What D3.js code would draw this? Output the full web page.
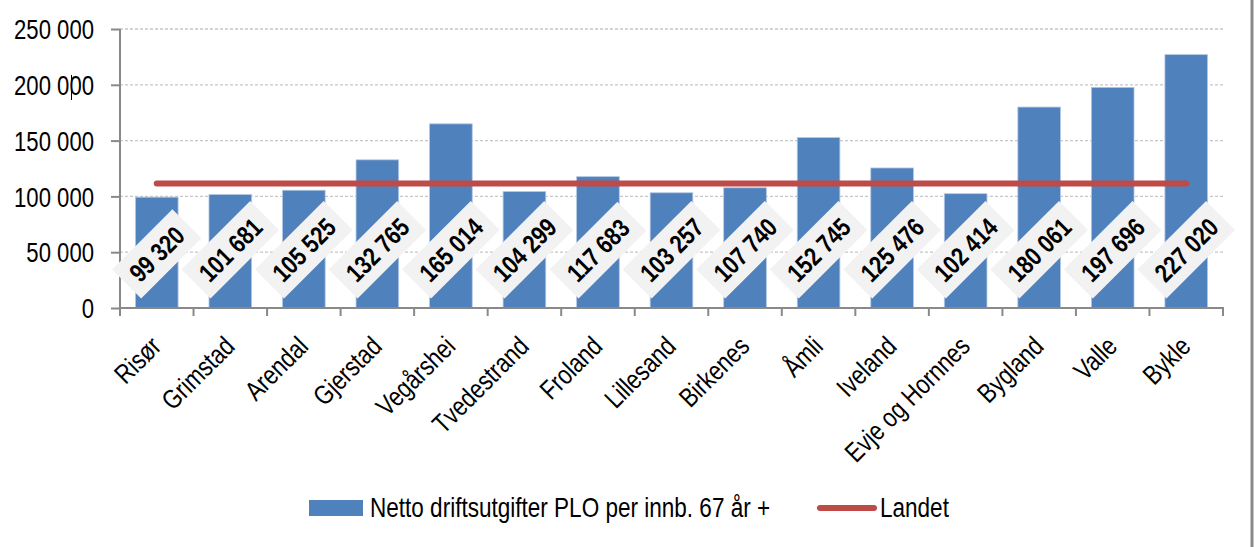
<!DOCTYPE html>
<html><head><meta charset="utf-8">
<script src="https://cdn.jsdelivr.net/npm/d3@7"></script>
<style>
html,body{margin:0;padding:0;background:#fff;}
svg{display:block;}
text{font-family:"Liberation Sans",Arial,sans-serif;}
</style></head>
<body>
<script>
const categories = ["Risør","Grimstad","Arendal","Gjerstad","Vegårshei","Tvedestrand","Froland","Lillesand","Birkenes","Åmli","Iveland","Evje og Hornnes","Bygland","Valle","Bykle"];
const nettoValues = [99320,101681,105525,132765,165014,104299,117683,103257,107740,152745,125476,102414,180061,197696,227020];
const landetValues = [111600,111600,111600,111600,111600,111600,111600,111600,111600,111600,111600,111600,111600,111600,111600];
const yTicks = [0,50000,100000,150000,200000,250000];
const seriesNames = ["Netto driftsutgifter PLO per innb. 67 år +","Landet"];

const W=1254,H=547, NS=0.82; // narrow-font horizontal scale
const svg=d3.select("body").append("svg").attr("width",W).attr("height",H);
const fmt = v => d3.format(",")(v).replace(/,/g," ");

const x=d3.scaleBand().domain(categories).range([120,1223]).paddingInner(0.42).paddingOuter(0.21);
const y=d3.scaleLinear().domain([0,250000]).range([308,29]);
const axisCol="#898989";

// gridlines
svg.append("g").selectAll("line").data(yTicks.filter(d=>d>0)).join("line")
  .attr("x1",120).attr("x2",1223).attr("y1",d=>y(d)).attr("y2",d=>y(d))
  .attr("stroke","#C6C6C6").attr("stroke-width",1.3).attr("stroke-dasharray","3,2");

// bars
svg.append("g").selectAll("rect").data(nettoValues).join("rect")
  .attr("x",(d,i)=>x(categories[i])).attr("width",x.bandwidth())
  .attr("y",d=>y(d)).attr("height",d=>y(0)-y(d))
  .attr("fill","#4F81BD").attr("stroke","#B4C8E4").attr("stroke-width",0.8);

// y axis
const yAxis=d3.axisLeft(y).tickValues(yTicks).tickFormat(fmt).tickSize(9);
const ga=svg.append("g").attr("transform","translate(120,0)").call(yAxis);
ga.select(".domain").attr("stroke",axisCol).attr("stroke-width",2).attr("d","M0,29V308");
ga.selectAll(".tick line").attr("stroke",axisCol).attr("stroke-width",2);
ga.selectAll(".tick text").attr("x",0).attr("font-size",27).attr("fill","#000").attr("dy","0.36em")
  .attr("transform",`translate(-26,0) scale(${NS},1)`);

// x axis
const step=x.step();
const bounds=categories.map(c=>x(c)-step*x.paddingOuter()).concat([1223]);
svg.append("line").attr("x1",119).attr("x2",1224).attr("y1",308).attr("y2",308).attr("stroke",axisCol).attr("stroke-width",2);
svg.append("g").selectAll("line").data(bounds).join("line")
  .attr("x1",d=>d).attr("x2",d=>d).attr("y1",308).attr("y2",316).attr("stroke",axisCol).attr("stroke-width",2);

svg.append("g").selectAll("text").data(categories).join("text")
  .attr("transform",d=>`translate(${x(d)+x.bandwidth()/2+6},348) rotate(-45) scale(${NS},1)`)
  .attr("text-anchor","end").attr("font-size",27).attr("fill","#000").text(d=>d);

// Landet line
const line=d3.line().x((d,i)=>x(categories[i])+x.bandwidth()/2).y(d=>y(d));
svg.append("path").datum(landetValues).attr("d",line).attr("fill","none")
  .attr("stroke","#BE4B48").attr("stroke-width",6).attr("stroke-linecap","round");

// data labels
const lg=svg.append("g");
nettoValues.forEach((v,i)=>{
  const cx=x(categories[i])+x.bandwidth()/2;
  const g=lg.append("g");
  const t=g.append("text").attr("font-size",26).attr("font-weight","bold").attr("fill","#000")
    .attr("text-anchor","middle").attr("dy","0.36em").attr("transform",`scale(${NS},1)`).text(fmt(v));
  const L=t.node().getComputedTextLength()*NS;
  const bw=L+20,bh=41;
  g.insert("rect","text").attr("x",-bw/2).attr("y",-bh/2).attr("width",bw).attr("height",bh).attr("fill","#F2F2F2");
  const cy=298.5-(bw+bh)*Math.SQRT1_2/2;
  g.attr("transform",`translate(${cx},${cy}) rotate(-45)`);
});

// legend
svg.append("rect").attr("x",309).attr("y",500).attr("width",54).attr("height",16).attr("fill","#4F81BD");
svg.append("text").attr("transform",`translate(370,517) scale(${NS},1)`).attr("font-size",27.5).attr("fill","#000").text(seriesNames[0]);
svg.append("line").attr("x1",820).attr("x2",874).attr("y1",508).attr("y2",508)
  .attr("stroke","#BE4B48").attr("stroke-width",6).attr("stroke-linecap","round");
svg.append("text").attr("transform",`translate(880,517) scale(${NS},1)`).attr("font-size",27.5).attr("fill","#000").text(seriesNames[1]);

// right frame border
svg.append("line").attr("x1",1252).attr("x2",1252).attr("y1",0).attr("y2",H).attr("stroke",axisCol).attr("stroke-width",3);
// text cursor artifact
svg.append("line").attr("x1",71.5).attr("x2",71.5).attr("y1",75).attr("y2",100).attr("stroke","#000").attr("stroke-width",1);
</script>
</body></html>
